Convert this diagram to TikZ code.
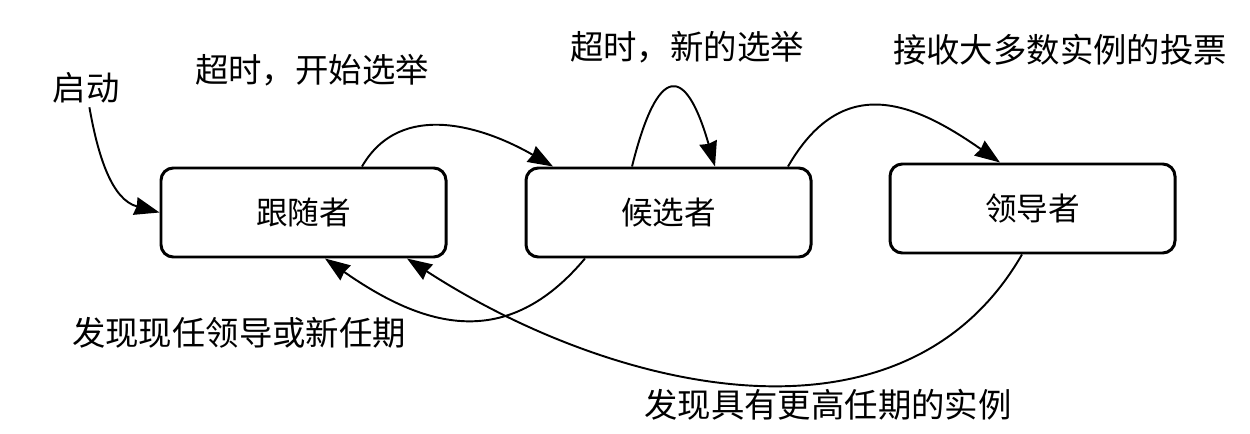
\documentclass[tikz,border=0pt]{standalone}
\usepackage{fontspec}
\newfontfamily\cjk{Noto Sans CJK SC}
\usetikzlibrary{
    arrows.meta,
    positioning
}

\begin{document}
\begin{tikzpicture}[
        every node/.style={
            font=\cjk\fontsize{19pt}{22pt}\selectfont
        },
        state/.style={
            rectangle,
            rounded corners=7pt,
            draw=black,
            line width=1.7pt,
            fill=white,
            minimum width=5.7cm,
            minimum height=1.78cm,
            font=\cjk\fontsize{18pt}{21pt}\selectfont,
            align=center
        },
        event/.style={
            inner sep=2pt
        },
        arrow/.style={
            -{Stealth[length=5mm,width=3.6mm,inset=0.3mm]},
            line width=1.1pt,
            draw=black
        }
    ]

    \useasboundingbox (0,0) rectangle (25,-8.66);

    % the three server states
    \node[state] (follower) at (6.07,-4.25) {跟随者};
    \node[state] (candidate) at (13.37,-4.25) {候选者};
    \node[state] (leader) at (20.65,-4.17) {领导者};

    % transition labels
    \node[event] (start) at (1.72,-1.76) {启动};
    \node[event] (timeout) at (6.24,-1.40) {超时，开始选举};
    \node[event] (reelect) at (13.74,-0.94) {超时，新的选举};
    \node[event] (majority) at (21.20,-1.00) {接收大多数实例的投票};
    \node[event] (stepdown) at (4.78,-6.66) {发现现任领导或新任期};
    \node[event] (higher) at (16.56,-8.10) {发现具有更高任期的实例};

    \draw[arrow] (start) to[out=-80, in=165] (follower.west);
    \draw[arrow] ([xshift=1.17cm]follower.north)
        to[out=60, in=150, looseness=1.05] ([xshift=-2.31cm]candidate.north);
    \draw[arrow] ([xshift=-0.73cm]candidate.north)
        to[out=76, in=106, looseness=3.3] ([xshift=0.93cm]candidate.north);
    \draw[arrow] ([xshift=2.39cm]candidate.north)
        to[out=60, in=145, looseness=1.3] ([xshift=-0.65cm]leader.north);
    \draw[arrow] ([xshift=-1.67cm]candidate.south)
        to[out=230, in=-35, looseness=1.2] ([xshift=0.43cm]follower.south);
    \draw[arrow] ([xshift=-0.21cm]leader.south)
        to[out=240, in=-33] ([xshift=2.07cm]follower.south);

\end{tikzpicture}
\end{document}
